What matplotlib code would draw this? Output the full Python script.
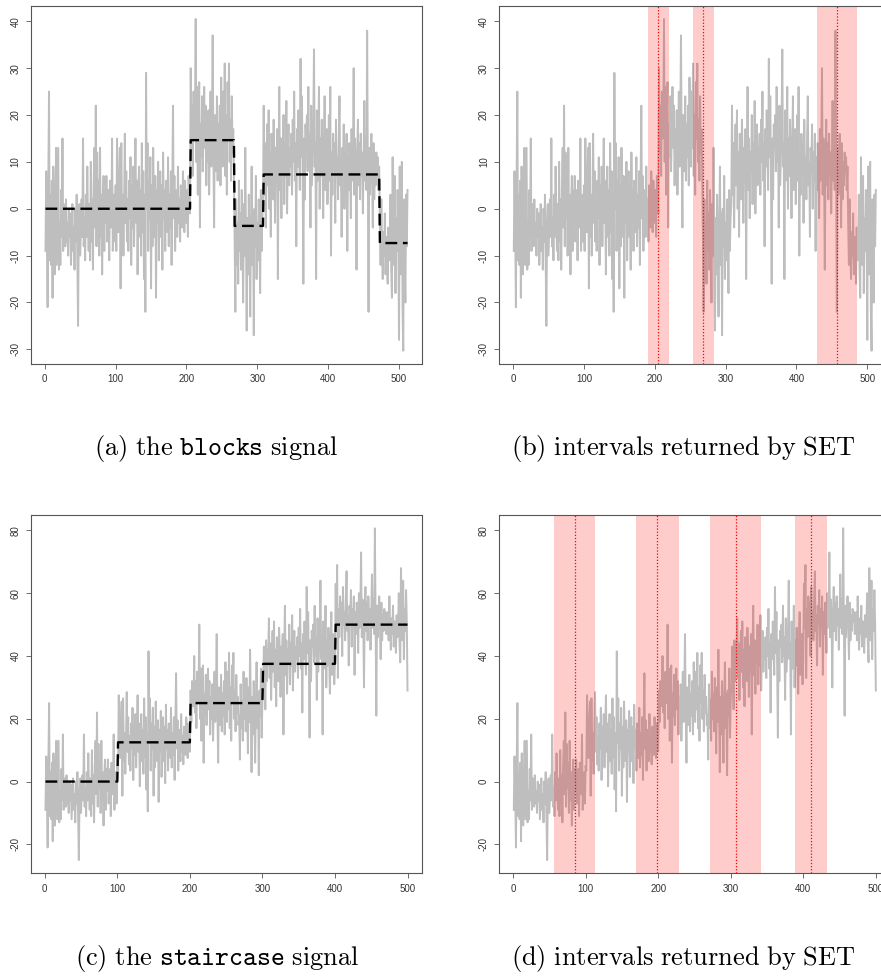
import matplotlib
matplotlib.use("Agg")
import matplotlib.pyplot as plt
import numpy as np

plt.rcParams["axes.unicode_minus"] = False
plt.rcParams["mathtext.fontset"] = "cm"
plt.rcParams["font.family"] = ["Liberation Sans", "DejaVu Sans"]

# noisy "blocks" signal, one value per index 1..512
blocks_signal = [
    -9, 8, -4, -21, 6, 25, -11, 3, -12, 6,
    -19, 9, -4, -14, 2, 13, -12, 0, 13, -13,
    -3, -12, 4, -6, 15, -9, 1, -5, -8, 2,
    -7, -3, -10, 0, -6, -1, -12, -5, 1, -9,
    -4, -13, 0, -7, 3, -12, -25, -3, 1, -10,
    -4, 2, -6, 15, -8, -2, -11, 3, -6, 9,
    -3, -9, 1, -11, 10, -7, 2, -13, 5, 13,
    -4, 22, -8, 12, -2, 6, -10, 13, -6, 3,
    -14, 1, 7, -9, 4, -3, 7, -7, 0, 4,
    -11, 6, 1, -4, 15, -9, -1, 3, -7, 5,
    -9, 15, 2, -5, 6, 13, -17, 14, -6, 3,
    -10, 1, 16, -3, 8, -7, 2, -9, 6, -2,
    11, -12, 5, -4, 9, -8, 3, 15, -3, 6,
    -14, 2, 9, -6, 4, -10, 14, -5, 8, -15,
    3, -22, 29, 0, 14, -9, 6, -2, 11, -17,
    5, -8, 13, 0, -6, 7, -19, 4, -3, 10,
    -11, 2, 8, -6, 5, -13, 12, -2, 4, -9,
    6, 0, -5, 11, -8, 3, -4, 8, -12, 5,
    22, -2, 7, -9, 4, 1, -6, 9, -3, 2,
    -7, 5, 0, -4, 8, 3, -5, 6, 1, -3,
    4, -6, 7, 2, -1,
    30, 12, 22, 7, 25, 15, 19, 40.5, 10, 26,
    3, 20, 27, -4, 18, 11, 24, 8, 16, 26,
    13, 22, 5, 17, 10, 21, 3, 15, 25, 9,
    19, 37, 12, -4, 20, 14, 8, 24, 6, 18,
    11, 22, 5, 28, 16, 9, 25, 13, 31, 7,
    20, 3, 27, 15, 31, 10, 19, 6, 24, 12,
    17, 8,
    -8, -22, 2, -12, -3, -16, 6, -9, -1, -13,
    4, -6, -20, 1, -10, 13, -5, -26, -2, -14,
    3, -9, -23, -4, 9, -12, -1, -27, 0, -8,
    7, -15, -3, -11, 2, -6, -18, 4, -9, -2,
    1,
    22, 3, 14, -4, 9, 18, 5, 21, 0, 12,
    -6, 16, 8, 2, 19, 11, -3, 13, 6, 17,
    -15, 10, 26, 4, 15, -2, 12, 8, 20, 1,
    14, 7, 23, -1, 11, 18, 5, 13, 9, 16,
    3, 19, 10, 25, 6, 14, -8, 17, 9, 21,
    12, 4, 32, 11, 24, 7, -16, 15, 2, 18,
    13, 20, 8, 26, 10, 16, -4, 22, 5, 12,
    18, 34, 9, 14, -15, 21, 6, 11, 26, 0,
    15, 7, 19, 10, -2, 13, 24, 4, 11, 17,
    1, 9, 20, 6, 26, -10, 12, 3, 16, 8,
    14, -3, 19, 7, 11, 2, 15, 24, 5, 10,
    -6, 13, 8, 18, 0, 12, 6, 16, -9, 11,
    4, 14, 9, -2, 17, 6, 12, 30, 3, 15,
    8, -13, 11, 19, 5, 14, 2, 16, 7, 12,
    -1, 10, 23, 6, 15, 4, 38, 9, -22, 13,
    3, 11, 16, 7, -4, 14, 2, 10, 5, 12,
    8, 11, 4, 9,
    -3, -12, 2, -8, -15, -5, -10, -1, -14, -6,
    -9, -16, -4, -11, -7, 3, -13, -19, 11, -5,
    -12, 7, -18, -2, -9, 4, -6, -28, 9, -14,
    -3, 10, -21, -30.3, 2, -11, -20, 3, -8, 4,
]
blocks_levels = [0, 14.64, -3.66, 7.32, -7.32]
blocks_ends = [205, 267, 308, 472, 512]

# noisy "staircase" signal, index 1..500
staircase_signal = [
    -9, 8, -4, -21, 6, 25, -11, 3, -12, 6,
    -19, 9, -4, -14, 2, 13, -12, 0, 13, -13,
    -3, -12, 4, -6, 15, -9, 1, -5, -8, 2,
    -7, -3, -10, 0, -6, -1, -12, -5, 1, -9,
    -4, -13, 0, -7, 3, -12, -25, -3, 1, -10,
    -4, 2, -6, 15, -8, -2, -11, 3, -6, 9,
    -3, -9, 1, -11, 10, -7, 2, -13, 5, 13,
    -4, 22, -8, 12, -2, 6, -10, 13, -6, 3,
    -14, 1, 7, -9, 4, -3, 7, -7, 0, 4,
    -11, 6, 1, -4, 15, -9, -1, 3, -7, 5,
    3.5, 27.5, 14.5, 7.5, 18.5, 25.5, -4.5, 26.5, 6.5, 15.5,
    2.5, 13.5, 28.5, 9.5, 20.5, 5.5, 14.5, 3.5, 18.5, 10.5,
    23.5, 0.5, 17.5, 8.5, 21.5, 4.5, 15.5, 27.5, 9.5, 18.5,
    -1.5, 14.5, 21.5, 6.5, 16.5, 2.5, 26.5, 7.5, 20.5, -2.5,
    15.5, -9.5, 41.5, 12.5, 26.5, 3.5, 18.5, 10.5, 23.5, -4.5,
    17.5, 4.5, 25.5, 12.5, 6.5, 19.5, -6.5, 16.5, 9.5, 22.5,
    1.5, 14.5, 20.5, 6.5, 17.5, -0.5, 24.5, 10.5, 16.5, 3.5,
    18.5, 12.5, 7.5, 23.5, 4.5, 15.5, 8.5, 20.5, 0.5, 17.5,
    34.5, 10.5, 19.5, 3.5, 16.5, 13.5, 6.5, 21.5, 9.5, 14.5,
    5.5, 17.5, 12.5, 8.5, 20.5, 15.5, 7.5, 18.5, 13.5, 9.5,
    29, 19, 32, 27, 24,
    40, 22, 32, 17, 35, 25, 29, 50, 20, 36,
    13, 30, 37, 6, 28, 21, 34, 18, 26, 36,
    23, 32, 15, 27, 20, 31, 13, 25, 35, 19,
    29, 47, 22, 6, 30, 24, 18, 34, 16, 28,
    21, 32, 15, 38, 26, 19, 35, 23, 41, 17,
    30, 13, 37, 25, 41, 20, 29, 16, 34, 22,
    27, 18,
    21, 7, 31, 17, 26, 13, 35, 20, 28, 16,
    33, 23, 9, 30, 19, 42, 24, 3, 27, 15,
    32, 20, 6, 25, 38, 17, 28, 2, 29, 21,
    36, 14, 26,
    30, 43, 35, 23, 45, 32, 39, 42,
    52, 33, 44, 26, 39, 48, 35, 51, 30, 42,
    24, 46, 38, 32, 49, 41, 27, 43, 36, 47,
    15, 40, 56, 34, 45, 28, 42, 38, 50, 31,
    44, 37, 53, 29, 41, 48, 35, 43, 39, 46,
    33, 49, 40, 55, 36, 44, 22, 47, 39, 51,
    42, 34, 62, 41, 54, 37, 14, 45, 32, 48,
    43, 50, 38, 56, 40, 46, 26, 52, 35, 42,
    48, 64, 39, 44, 15, 51, 36, 41, 56, 30,
    45, 37, 49, 40, 28, 43, 54, 34, 41, 47,
    31, 39,
    63, 49, 69, 33, 55, 46, 59, 51,
    57, 40, 62, 50, 54, 45, 58, 67, 48, 53,
    37, 56, 51, 61, 43, 55, 49, 59, 34, 54,
    47, 57, 52, 41, 60, 49, 55, 73, 46, 58,
    51, 30, 54, 62, 48, 57, 45, 59, 50, 55,
    42, 53, 66, 49, 58, 47, 80.7, 52, 21, 56,
    46, 54, 59, 50, 39, 57, 45, 53, 48, 55,
    51, 54, 47, 52,
    54, 45, 59, 49, 42, 52, 47, 56, 43, 51,
    48, 41, 53, 46, 50, 60, 44, 38, 68, 52,
    45, 64, 39, 55, 48, 61, 51, 29,
]
staircase_levels = [0, 12.5, 25, 37.5, 50]
staircase_ends = [100, 200, 300, 400, 500]

# intervals returned by SET and the change-point estimate inside each
blocks_int_lo = [190, 254, 429]
blocks_int_hi = [220, 284, 486]
blocks_cpt = [205, 268, 457]
stair_int_lo = [57, 169, 271, 388]
stair_int_hi = [113, 229, 342, 433]
stair_cpt = [85, 199, 307, 411]

captions = [
    r"$\mathrm{(a)\ the\ }\mathtt{blocks}\mathrm{\ signal}$",
    r"$\mathrm{(b)\ intervals\ returned\ by\ SET}$",
    r"$\mathrm{(c)\ the\ }\mathtt{staircase}\mathrm{\ signal}$",
    r"$\mathrm{(d)\ intervals\ returned\ by\ SET}$",
]

W, H = 881, 976
fig = plt.figure(figsize=(W / 100, H / 100), dpi=100)


def panel(left_px, top_px, y, yticks):
    aw, ah = 391, 358.3
    ax = fig.add_axes([left_px / W, 1 - (top_px + ah) / H, aw / W, ah / H])
    y = np.asarray(y, dtype=float)
    n = len(y)
    x = np.arange(1, n + 1)
    ax.plot(x, y, color="#bebebe", lw=1.4, zorder=1)
    pad = 0.04 * (n - 1)
    ax.set_xlim(1 - pad, n + pad)
    r = y.max() - y.min()
    ax.set_ylim(y.min() - 0.04 * r, y.max() + 0.04 * r)
    ax.set_xticks(range(0, 501, 100))
    ax.set_yticks(yticks)
    for s in ax.spines.values():
        s.set_color("#555555")
        s.set_linewidth(0.8)
    ax.tick_params(length=3.5, width=0.6, color="#555555", labelsize=7,
                   labelcolor="#333333")
    ax.tick_params(axis="x", pad=4)
    ax.tick_params(axis="y", pad=4)
    for lab in ax.get_yticklabels():
        lab.set_rotation(90)
        lab.set_va("center")
    return ax, x


def truth_line(ax, x, levels, ends):
    counts = np.diff([0] + ends)
    truth = np.repeat(levels, counts)
    ax.plot(x, truth, color="black", lw=1.7, dashes=(5, 2.4), zorder=3)


def intervals(ax, lo, hi, cpt):
    for a, b, c in zip(lo, hi, cpt):
        ax.axvspan(a, b, color="red", alpha=0.2, lw=0, zorder=2)
        ax.axvline(c, color="red", ls=(0, (1, 1.5)), lw=0.9, zorder=3)


ax, x = panel(31, 5.7, blocks_signal, range(-30, 41, 10))
truth_line(ax, x, blocks_levels, blocks_ends)

ax, x = panel(499.3, 5.7, blocks_signal, range(-30, 41, 10))
intervals(ax, blocks_int_lo, blocks_int_hi, blocks_cpt)

ax, x = panel(31, 515, staircase_signal, range(-20, 81, 20))
truth_line(ax, x, staircase_levels, staircase_ends)

ax, x = panel(499.3, 515, staircase_signal, range(-20, 81, 20))
intervals(ax, stair_int_lo, stair_int_hi, stair_cpt)

cap_pos = [(216, 449), (683, 449), (217, 958), (683, 958)]
for (cx, cy), txt in zip(cap_pos, captions):
    fig.text(cx / W, 1 - cy / H, txt, ha="center", va="center", fontsize=19)

fig.savefig("out.png", dpi=100)
